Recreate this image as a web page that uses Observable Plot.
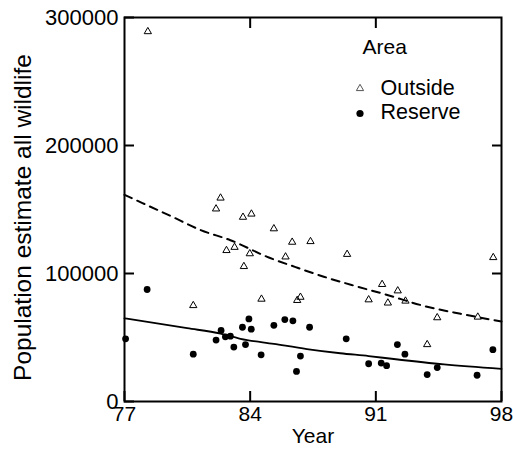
<!DOCTYPE html>
<html>
<head>
<meta charset="utf-8">
<script src="https://cdn.jsdelivr.net/npm/d3@7"></script>
<script src="https://cdn.jsdelivr.net/npm/@observablehq/plot@0.6"></script>
<style>
  html, body { margin: 0; padding: 0; background: #fff; }
  #chart { width: 513px; height: 460px; }
</style>
</head>
<body>
<div id="chart"></div>
<script>
// Outside (open triangles)
const outsideYear  = [78.3, 82.35, 82.1, 83.6, 84.07, 82.68, 83.13, 83.98, 83.65, 80.83, 84.63, 85.32, 86.34, 87.36, 85.97, 89.4, 86.62, 86.8, 91.35, 92.22, 90.6, 91.67, 92.65, 94.42, 93.86, 96.68, 97.54];
const outsideValue = [289000, 159000, 150500, 144000, 146500, 118000, 120500, 115500, 105500, 75000, 80000, 135000, 124500, 125000, 113000, 115000, 79000, 81500, 91500, 86500, 79500, 77000, 78500, 65500, 44500, 66000, 112500];

// Reserve (filled dots)
const reserveYear  = [77.06, 78.26, 80.83, 82.1, 82.38, 82.62, 82.9, 83.09, 83.57, 83.74, 83.93, 84.06, 84.61, 85.32, 85.93, 86.38, 87.31, 86.8, 86.58, 89.35, 90.6, 91.3, 91.6, 92.2, 92.62, 93.86, 94.42, 96.64, 97.52];
const reserveValue = [49000, 87500, 37000, 48000, 55500, 50500, 51000, 42500, 58000, 44500, 64500, 56500, 36500, 59500, 64000, 63000, 58000, 35500, 23500, 49000, 29500, 30000, 28000, 44500, 37000, 21000, 26500, 20500, 40500];

// Fitted trend curves
const fitOutsideYear  = [77, 78, 79.56, 81.23, 82.9, 85.04, 86.53, 88.1, 89.78, 91.45, 93.86, 95.72, 98];
const fitOutsideValue = [161500, 155000, 145000, 134000, 126000, 112500, 105000, 97500, 90500, 84000, 74000, 68500, 62500];
const fitReserveYear  = [77, 80.49, 82.35, 83.46, 85.32, 87.16, 89.02, 90.6, 92, 94.8, 98];
const fitReserveValue = [65000, 57300, 53000, 49000, 45000, 41000, 37700, 35500, 33200, 29000, 25500];

const xTicks = [77, 84, 91, 98];
const xInnerTicks = [84, 91];
const yTicks = [0, 100000, 200000, 300000];
const yInnerTicks = [100000, 200000];

const legendTitle = "Area";
const legendLabels = ["Outside", "Reserve"];
const xTitle = "Year";
const yTitle = "Population estimate all wildlife";

const outside = outsideYear.map((x, i) => ({x, y: outsideValue[i]}));
const reserve = reserveYear.map((x, i) => ({x, y: reserveValue[i]}));
const fitOut = fitOutsideYear.map((x, i) => ({x, y: fitOutsideValue[i]}));
const fitRes = fitReserveYear.map((x, i) => ({x, y: fitReserveValue[i]}));

const font = "'Liberation Sans', Arial, Helvetica, sans-serif";

const chart = Plot.plot({
  width: 513,
  height: 460,
  marginLeft: 124,
  marginRight: 12,
  marginTop: 17,
  marginBottom: 59,
  style: {fontFamily: font, fontSize: "21px", color: "#000", background: "#fff"},
  x: {domain: [77, 98]},
  y: {domain: [0, 300000]},
  marks: [
    Plot.frame({stroke: "#000", strokeWidth: 2}),
    Plot.axisX({anchor: "bottom", ticks: xTicks, tickSize: -10, tickPadding: 15, strokeWidth: 2, fontSize: 21, tickFormat: d => String(d), label: null}),
    Plot.axisX({anchor: "top", ticks: xInnerTicks, tickSize: -10, strokeWidth: 2, tickFormat: () => "", label: null}),
    Plot.axisY({anchor: "left", ticks: yTicks, tickSize: -10, tickPadding: 16, strokeWidth: 2, fontSize: 22, tickFormat: d => String(d), label: null}),
    Plot.axisY({anchor: "right", ticks: yInnerTicks, tickSize: -10, strokeWidth: 2, tickFormat: () => "", label: null}),
    Plot.line(fitOut, {x: "x", y: "y", curve: "monotone-x", stroke: "#000", strokeWidth: 2, strokeDasharray: "8,6"}),
    Plot.line(fitRes, {x: "x", y: "y", curve: "monotone-x", stroke: "#000", strokeWidth: 1.8}),
    Plot.dot(outside, {x: "x", y: "y", symbol: "triangle", r: 2.7, stroke: "#000", strokeWidth: 1, fill: "none"}),
    Plot.dot(reserve, {x: "x", y: "y", symbol: "circle", r: 3.4, fill: "#000", stroke: "none"}),
    // axis titles
    Plot.text([xTitle], {frameAnchor: "bottom", lineAnchor: "bottom", dy: 41, fontSize: 21, fill: "#000"}),
    Plot.text([yTitle], {frameAnchor: "left", rotate: -90, textAnchor: "middle", lineAnchor: "middle", dx: -101, dy: 8, fontSize: 24.5, fill: "#000"}),
    // legend
    Plot.text([legendTitle], {frameAnchor: "top-left", textAnchor: "start", lineAnchor: "bottom", dx: 238, dy: 36, fontSize: 21, fill: "#000"}),
    Plot.text([legendLabels[0]], {frameAnchor: "top-left", textAnchor: "start", lineAnchor: "bottom", dx: 256, dy: 77, fontSize: 21.5, fill: "#000"}),
    Plot.text([legendLabels[1]], {frameAnchor: "top-left", textAnchor: "start", lineAnchor: "bottom", dx: 256, dy: 101, fontSize: 21.5, fill: "#000"}),
    Plot.dot([legendLabels[0]], {frameAnchor: "top-left", dx: 235.5, dy: 71, symbol: "triangle", r: 2.7, stroke: "#555", strokeWidth: 1, fill: "none"}),
    Plot.dot([legendLabels[1]], {frameAnchor: "top-left", dx: 235.5, dy: 96, symbol: "circle", r: 3.6, fill: "#000", stroke: "none"})
  ]
});
document.getElementById("chart").appendChild(chart);
</script>
</body>
</html>
